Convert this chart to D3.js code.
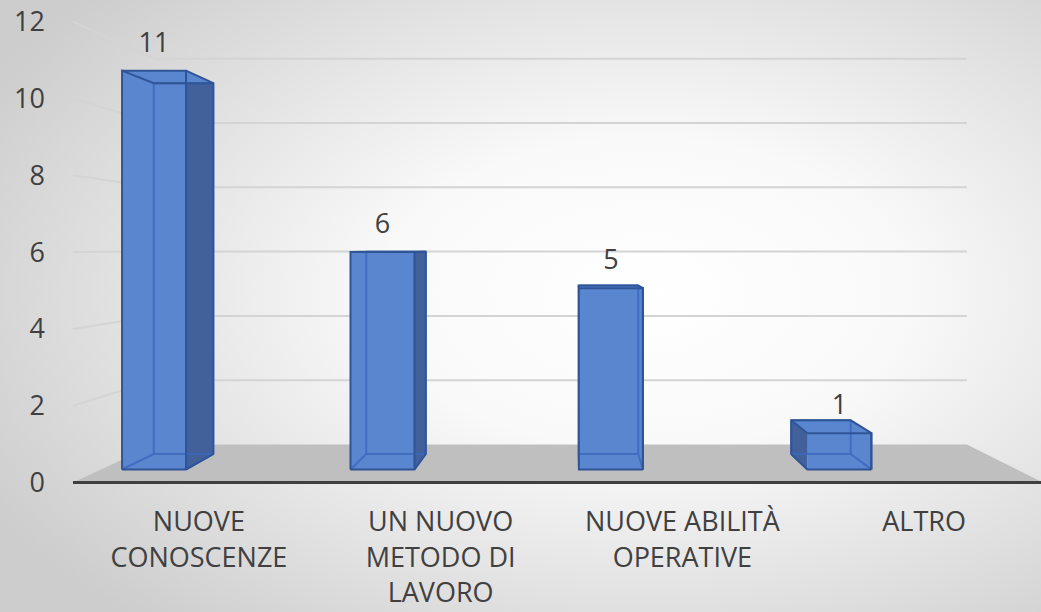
<!DOCTYPE html>
<html>
<head>
<meta charset="utf-8">
<script src="https://cdn.jsdelivr.net/npm/d3@7"></script>
<style>
  body { margin: 0; padding: 0; overflow: hidden; }
  svg { display: block; font-family: "Open Sans", sans-serif; }
</style>
</head>
<body>
<div id="chart"></div>
<script>
// data
var categories = ["NUOVE CONOSCENZE", "UN NUOVO METODO DI LAVORO", "NUOVE ABILITÀ OPERATIVE", "ALTRO"]
var labelLines = [["NUOVE", "CONOSCENZE"], ["UN NUOVO", "METODO DI", "LAVORO"], ["NUOVE ABILITÀ", "OPERATIVE"], ["ALTRO"]]
var values = [11, 6, 5, 1]
var yTicks = [0, 2, 4, 6, 8, 10, 12]

var width = 1041
var height = 612

// perspective: everything is laid out on the front plane, then pulled toward the vanishing point
var VP = [576, 249]
var sBarFront = 0.056
var sBarBack = 0.122
var sWall = 0.163

function proj(x, y, s) {
  return [x + (VP[0] - x) * s, y + (VP[1] - y) * s]
}

var svg = d3.select("#chart")
  .append("svg")
    .attr("width", width)
    .attr("height", height)

var defs = svg.append("defs")
var grad = defs.append("radialGradient")
  .attr("id", "bg")
  .attr("cx", "62%").attr("cy", "48%").attr("r", "72%")
grad.append("stop").attr("offset", "0%").attr("stop-color", "#ffffff")
grad.append("stop").attr("offset", "35%").attr("stop-color", "#f9f9f9")
grad.append("stop").attr("offset", "100%").attr("stop-color", "#cdcdcd")

svg.append("rect")
  .attr("width", width)
  .attr("height", height)
  .attr("fill", "url(#bg)")

var y = d3.scaleLinear()
  .domain([0, 12])
  .range([482.5, 21.7])

var x = d3.scaleBand()
  .domain(categories)
  .range([8, 976])
  .paddingInner(0.72)
  .paddingOuter(0.36)

var xLabel = d3.scaleBand()
  .domain(categories)
  .range([78, 1045])

var wallLeft = 73
var wallRight = 1043

// gridlines: side wall + back wall
var grid = svg.append("g")
yTicks.filter(function(t) { return t > 0 }).forEach(function(t) {
  var a = proj(wallLeft, y(t), 0)
  var b = proj(wallLeft, y(t), sWall)
  var c = proj(wallRight, y(t), sWall)
  grid.append("path")
    .attr("d", d3.line()([a, b, c]))
    .attr("fill", "none")
    .attr("stroke", "#d4d4d4")
    .attr("stroke-width", 2)
})

// floor
var floorPts = [
  proj(wallLeft, y(0), 0),
  proj(wallRight, y(0), 0),
  proj(wallRight, y(0), sWall),
  proj(wallLeft, y(0), sWall)
]
svg.append("polygon")
  .attr("points", floorPts.map(function(p) { return p.join(",") }).join(" "))
  .attr("fill", "#bfbfbf")

svg.append("line")
  .attr("x1", wallLeft).attr("x2", width)
  .attr("y1", y(0)).attr("y2", y(0))
  .attr("stroke", "#3f3f3f")
  .attr("stroke-width", 3)

// y axis labels
svg.append("g")
  .selectAll("text")
  .data(yTicks)
  .enter()
  .append("text")
    .attr("x", 45)
    .attr("y", function(d) { return y(d) })
    .attr("dy", "0.35em")
    .attr("text-anchor", "end")
    .attr("font-size", 27)
    .attr("fill", "#404040")
    .text(function(d) { return d })

// bars
var frontCol = "#5a86d0"
var sideCol = "#42609a"
var edgeCol = "#2f5597"
var innerCol = "#3c69bd"

function poly(g, pts, fill) {
  return g.append("polygon")
    .attr("points", pts.map(function(p) { return p.join(",") }).join(" "))
    .attr("fill", fill)
}

var bars = svg.append("g")
categories.forEach(function(cat, i) {
  var x0 = x(cat), x1 = x(cat) + x.bandwidth()
  var yb = y(0), yt = y(values[i])
  function face(s) {
    return { bl: proj(x0, yb, s), br: proj(x1, yb, s), tl: proj(x0, yt, s), tr: proj(x1, yt, s) }
  }
  var F = face(sBarFront)
  var B = face(sBarBack)
  var g = bars.append("g")
  var rightSide = (x0 + x1) / 2 < VP[0]

  poly(g, [B.bl, B.br, B.tr, B.tl], frontCol)
  var side = rightSide ? [F.br, B.br, B.tr, F.tr] : [F.bl, B.bl, B.tl, F.tl]
  poly(g, side, sideCol)
  poly(g, [F.tl, F.tr, B.tr, B.tl], frontCol)
  poly(g, [F.bl, F.br, F.tr, F.tl], frontCol)

  // hidden edges seen through the glassy bar
  var inner = [[B.bl, B.br], [B.br, B.tr], [B.tr, B.tl], [B.tl, B.bl],
               [F.bl, B.bl], [F.br, B.br]]
  inner.forEach(function(e) {
    g.append("path")
      .attr("d", d3.line()(e))
      .attr("stroke", innerCol)
      .attr("stroke-width", 2)
      .attr("opacity", 0.85)
  })

  // outline
  var outline = rightSide
    ? [F.bl, F.br, B.br, B.tr, B.tl, F.tl, F.bl]
    : [F.br, F.bl, B.bl, B.tl, B.tr, F.tr, F.br]
  g.append("path")
    .attr("d", d3.line()(outline))
    .attr("fill", "none")
    .attr("stroke", edgeCol)
    .attr("stroke-width", 2)
  g.append("path")
    .attr("d", d3.line()([F.tl, F.tr, F.br]))
    .attr("fill", "none")
    .attr("stroke", edgeCol)
    .attr("stroke-width", 2)
  g.append("path")
    .attr("d", d3.line()(rightSide ? [F.tr, B.tr] : [F.tl, B.tl]))
    .attr("fill", "none")
    .attr("stroke", edgeCol)
    .attr("stroke-width", 2)

  // value label
  g.append("text")
    .attr("x", (F.bl[0] + F.br[0]) / 2)
    .attr("y", F.tl[1] - 19)
    .attr("text-anchor", "middle")
    .attr("font-size", 27)
    .attr("fill", "#404040")
    .text(values[i])
})

// category labels
var lab = svg.append("g")
categories.forEach(function(cat, i) {
  var t = lab.append("text")
    .attr("text-anchor", "middle")
    .attr("font-size", 27)
    .attr("fill", "#404040")
  labelLines[i].forEach(function(line, j) {
    t.append("tspan")
      .attr("x", xLabel(cat) + xLabel.bandwidth() / 2)
      .attr("y", 531 + j * 35.5)
      .text(line)
  })
})
</script>
</body>
</html>
